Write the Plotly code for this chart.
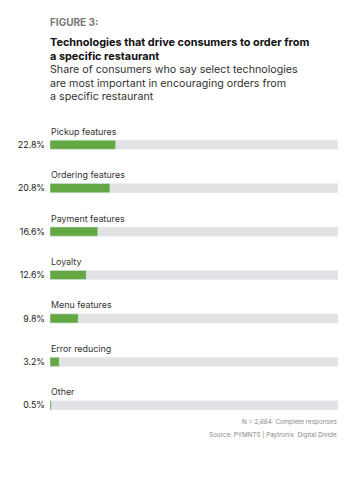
import plotly.graph_objects as go

categories = ["Pickup features", "Ordering features", "Payment features", "Loyalty",
              "Menu features", "Error reducing", "Other"]
values = [22.8, 20.8, 16.6, 12.6, 9.8, 3.2, 0.5]
value_labels = ["22.8%", "20.8%", "16.6%", "12.6%", "9.8%", "3.2%", "0.5%"]
full_scale = [100] * len(categories)

W, H = 363, 477
ML, MR, MT, MB = 50, 25, 123, 50
PW, PH = W - ML - MR, H - MT - MB

def px_x(x):
    return (x - ML) / PW

def px_y(y):
    return (H - MB - y) / PH

FONT = "Inter"
GREEN = "#63a843"
GRAY = "#e1e2e4"

fig = go.Figure()
fig.add_trace(go.Bar(y=categories, x=full_scale, orientation="h", marker_color=GRAY,
                     width=0.21, hoverinfo="skip", showlegend=False))
fig.add_trace(go.Bar(y=categories, x=values, orientation="h", marker_color=GREEN,
                     width=0.21, showlegend=False))

ann = []
for c in categories:
    ann.append(dict(x=0, y=c, xref="x", yref="y", text=c, showarrow=False,
                    xanchor="left", yanchor="middle", yshift=13.5, xshift=-1,
                    font=dict(family=FONT, size=8.9, color="#333333")))

def text(px, py, s, size, color, bold=False, anchor="left"):
    ann.append(dict(x=px_x(px), y=px_y(py), xref="paper", yref="paper",
                    text=f"<b>{s}</b>" if bold else s, showarrow=False,
                    xanchor=anchor, yanchor="middle", align=anchor, borderpad=0,
                    xshift=-1 if anchor == "left" else 0,
                    font=dict(family=FONT, size=size, color=color)))

text(50, 22.5, "FIGURE 3:", 10, "#777777", bold=True)
text(50, 48.8, "Technologies that drive consumers to order from<br>a specific restaurant",
     10.9, "#111111", bold=True)
text(50, 70, "Share of consumers who say select technologies", 10.7, "#333333")
text(50, 83, "are most important in encouraging orders from", 10.7, "#333333")
text(50, 96.5, "a specific restaurant", 10.7, "#333333")
text(338, 422, "N = 2,664: Complete responses", 6.3, "#888888", anchor="right")
text(338, 435, "Source: PYMNTS | Paytronix  Digital Divide", 6.3, "#888888", anchor="right")

fig.update_layout(
    width=W, height=H, margin=dict(l=ML, r=MR, t=MT, b=MB),
    barmode="overlay", plot_bgcolor="white", paper_bgcolor="white",
    annotations=ann,
    xaxis=dict(range=[0, 100], visible=False, fixedrange=True),
    yaxis=dict(range=[6.5, -0.5], tickmode="array", tickvals=categories,
               ticktext=value_labels, ticks="", ticklen=0, showgrid=False,
               showline=False, zeroline=False, ticklabelstandoff=4, fixedrange=True,
               tickfont=dict(family=FONT, size=8.8, color="#222222")),
)
fig.write_html("out.html", config={"displayModeBar": False},
               post_script="document.body.style.margin='0';")
